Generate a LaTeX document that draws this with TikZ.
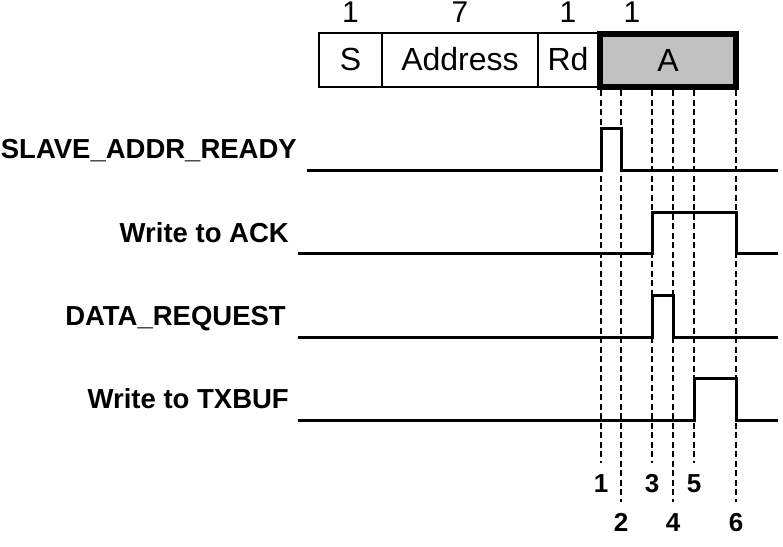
\documentclass[tikz,border=0pt]{standalone}
\usepackage{fontspec}
\setmainfont{Liberation Sans}
\usepackage{xcolor}
\usetikzlibrary{positioning}

\definecolor{ackgray}{HTML}{C0C0C0}

\begin{document}
\begin{tikzpicture}[x=1pt,y=-1pt,
  field/.style={draw,line width=1.2pt,outer sep=0pt,inner sep=0pt,minimum height=54pt,
    text height=23pt,text depth=2pt,font=\fontsize{32}{36}\selectfont},
  bits/.style={inner sep=0pt,font=\fontsize{30}{34}\selectfont},
  sig/.style={line width=3pt},
  lbl/.style={anchor=base east,inner sep=0pt,font=\bfseries\fontsize{27.5}{32}\selectfont},
  num/.style={anchor=north,inner sep=0pt,outer sep=0pt,text height=19pt,text depth=0pt,
    font=\bfseries\fontsize{26}{30}\selectfont},
  guide/.style={line width=1.3pt,dash pattern=on 6pt off 3.5pt}]
 \useasboundingbox (0,0) rectangle (783,546);

 % frame fields
 \node[field,minimum width=63pt] (s) at (350.5,60) {S};
 \node[field,minimum width=156pt,right=0pt of s] (addr) {Address};
 \node[field,minimum width=60pt,right=0pt of addr] (rd) {Rd};
 \node[field,minimum width=136pt,minimum height=53pt,line width=6pt,fill=ackgray] (ack) at (668,60.5) {A};

 \node[bits,above=10pt of s] (bs) {1};
 \node[bits,above=10pt of addr] (baddr) {7};
 \node[bits,above=10pt of rd] (brd) {1};
 \node[bits,above=11pt of ack.north west,xshift=32pt] (back) {1};

 % signal names
 \node[lbl] (rdy) at (297,158) {SLAVE\_ADDR\_READY};
 \node[lbl] (wack) at (289,242) {Write to ACK};
 \node[lbl] (dreq) at (286,325) {DATA\_REQUEST};
 \node[lbl] (wtx) at (289,408) {Write to TXBUF};

 % event markers
 \foreach \i/\x/\y in {1/601/473,2/621/512,3/652/473,4/673/512,5/694/473,6/736/512} {
   \coordinate (t\i) at (\x,90);
   \node[num] (n\i) at (\x,\y) {\i};
   \draw[guide,shorten >=10pt] (t\i) -- (n\i);
 }

 % waveforms
 \draw[sig] (307,170) -- (601,170) -- (601,128) -- (621,128) -- (621,170) -- (778,170);
 \draw[sig] (298,253) -- (652,253) -- (652,212) -- (736,212) -- (736,253) -- (778,253);
 \draw[sig] (298,337) -- (652,337) -- (652,295) -- (673,295) -- (673,337) -- (778,337);
 \draw[sig] (298,420) -- (694,420) -- (694,378) -- (736,378) -- (736,420) -- (778,420);
\end{tikzpicture}
\end{document}
